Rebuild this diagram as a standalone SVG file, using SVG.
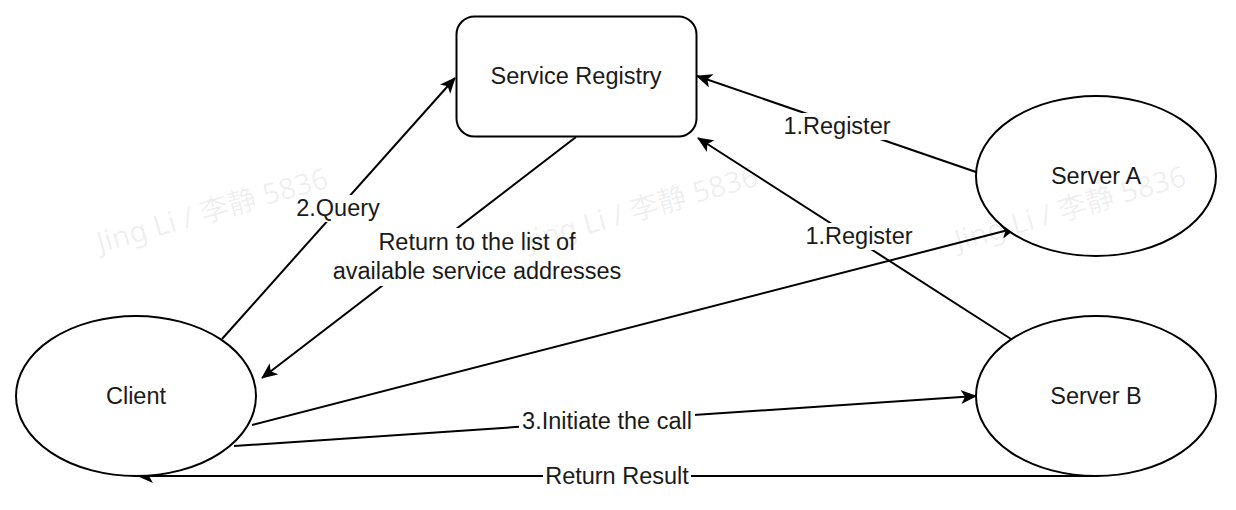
<svg xmlns="http://www.w3.org/2000/svg" width="1236" height="510" viewBox="0 0 1236 510">
<defs>
<marker id="arr" viewBox="0 0 16 14" refX="15" refY="7" markerWidth="16" markerHeight="14" markerUnits="userSpaceOnUse" orient="auto">
<path d="M0,0 L16,7 L0,14 L4,7 z" fill="#000"/>
</marker>
</defs>
<style>
.node{fill:#fff;stroke:#000;stroke-width:2}
.t{font-family:"Liberation Sans",Arial,sans-serif;font-size:23.5px;fill:#1a1a1a;text-anchor:middle}
.e{fill:none;stroke:#000;stroke-width:2;marker-end:url(#arr)}
.lb{fill:#fff}
.wm{font-family:"Noto Sans","Noto Sans CJK SC",sans-serif;font-size:29px;fill:#000;fill-opacity:0.07}
</style>
<rect width="1236" height="510" fill="#fff"/>
<g id="connectors">
<path class="e" d="M976,172 L697,76"/>
<path class="e" d="M1011,339 L698,138"/>
<path class="e" d="M222,339 L455,78"/>
<path class="e" d="M576,137 L262,378"/>
<path class="e" d="M252,425 L1016,228"/>
<path class="e" d="M234,446 L976,396"/>
<path class="e" d="M1096,476 L138,476"/>
<rect class="lb" x="781" y="113" width="112" height="27"/>
<text class="t" x="837" y="134">1.Register</text>
<rect class="lb" x="803" y="223" width="112" height="27"/>
<text class="t" x="859" y="244">1.Register</text>
<rect class="lb" x="295" y="195" width="87" height="27"/>
<text class="t" x="338" y="216">2.Query</text>
<rect class="lb" x="328" y="228" width="298" height="58"/>
<text class="t" x="477" y="250">Return to the list of</text>
<text class="t" x="477" y="279">available service addresses</text>
<rect class="lb" x="519" y="408" width="176" height="27"/>
<text class="t" x="607" y="429">3.Initiate the call</text>
<rect class="lb" x="543" y="463" width="148" height="27"/>
<text class="t" x="617" y="484">Return Result</text>
</g>
<g id="registry">
<rect class="node" x="456.5" y="16.5" width="240" height="120" rx="18" ry="18"/>
<text class="t" x="576" y="84">Service Registry</text>
</g>
<g id="serverA">
<ellipse class="node" cx="1096" cy="176" rx="120" ry="80"/>
<text class="t" x="1096" y="184">Server A</text>
</g>
<g id="serverB">
<ellipse class="node" cx="1096" cy="396" rx="120" ry="80"/>
<text class="t" x="1096" y="404">Server B</text>
</g>
<g id="client">
<ellipse class="node" cx="136" cy="396" rx="120" ry="80"/>
<text class="t" x="136" y="404">Client</text>
</g>
<g id="watermark">
<text class="wm" transform="translate(100,253) rotate(-16)">Jing Li / 李静 5836</text>
<text class="wm" transform="translate(530,251) rotate(-16)">Jing Li / 李静 5836</text>
<text class="wm" transform="translate(958,251) rotate(-16)">Jing Li / 李静 5836</text>
</g>
</svg>
